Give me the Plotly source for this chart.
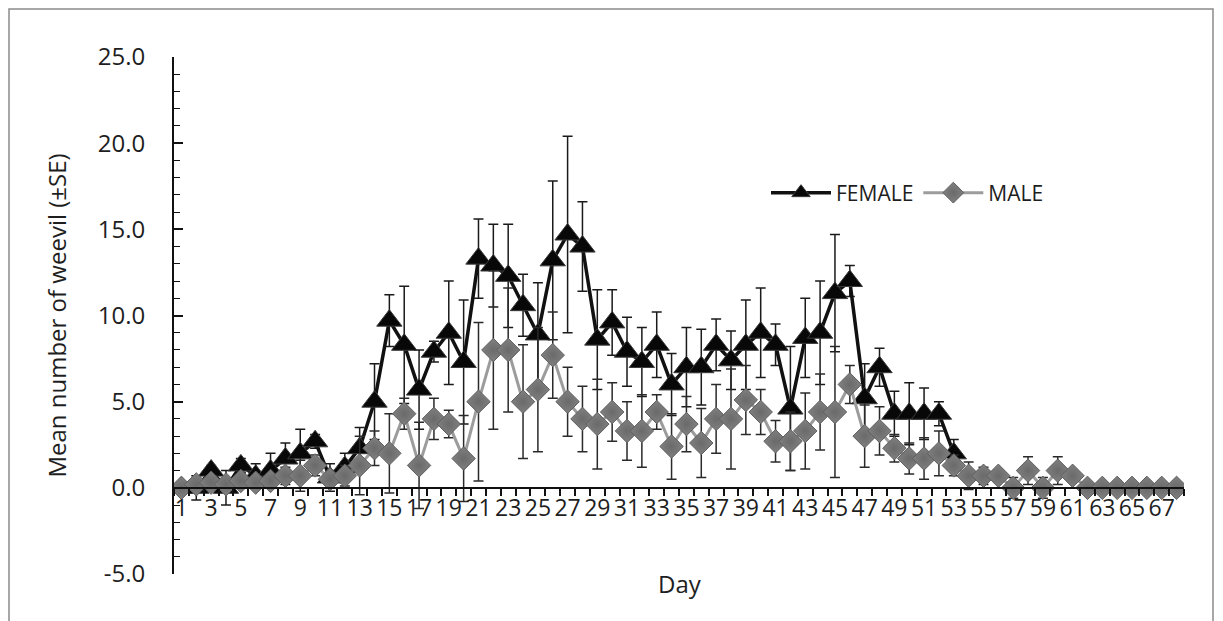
import plotly.graph_objects as go

days = list(range(1, 69))
female_mean = [0.0, 0.0, 1.0, 0.0, 1.3, 0.7, 1.0, 1.7, 2.0, 2.7,
               0.6, 1.2, 2.3, 5.0, 9.7, 8.3, 5.7, 7.9, 9.0, 7.3,
               13.3, 12.9, 12.3, 10.6, 8.9, 13.2, 14.7, 14.0, 8.6, 9.6,
               7.9, 7.3, 8.3, 6.0, 7.0, 7.0, 8.3, 7.4, 8.3, 9.0,
               8.3, 4.6, 8.7, 9.0, 11.3, 12.0, 5.2, 7.0, 4.3, 4.3,
               4.3, 4.3, 2.0, None, None, None, None, None, None, None,
               None, None, None, None, None, None, None, None]
female_se = [0.0, 0.7, 0.3, 1.0, 0.4, 0.7, 1.0, 0.9, 1.4, 0.4,
             0.8, 0.8, 1.2, 2.2, 1.5, 3.4, 2.3, 0.6, 3.0, 3.6,
             2.3, 2.4, 3.0, 1.8, 3.0, 4.6, 5.7, 2.6, 2.9, 1.9,
             2.0, 2.0, 1.9, 1.8, 2.3, 2.2, 1.5, 1.7, 2.6, 2.6,
             1.2, 3.6, 2.3, 3.0, 3.4, 0.9, 2.0, 1.1, 1.3, 1.8,
             1.5, 0.7, 0.8, 0.0, 0.0, 0.0, 0.0, 0.0, 0.0, 0.0,
             0.0, 0.0, 0.0, 0.0, 0.0, 0.0, 0.0, 0.0]
male_mean = [0.0, 0.2, 0.3, 0.2, 0.4, 0.3, 0.4, 0.7, 0.7, 1.3,
             0.5, 0.7, 1.3, 2.3, 2.0, 4.3, 1.3, 4.0, 3.7, 1.7,
             5.0, 8.0, 8.0, 5.0, 5.7, 7.7, 5.0, 4.0, 3.7, 4.4,
             3.3, 3.3, 4.4, 2.4, 3.7, 2.6, 4.0, 4.0, 5.1, 4.4,
             2.7, 2.7, 3.3, 4.4, 4.4, 6.0, 3.0, 3.3, 2.3, 1.7,
             1.7, 2.0, 1.3, 0.7, 0.7, 0.7, 0.0, 1.0, 0.0, 1.0,
             0.7, 0.0, 0.0, 0.0, 0.0, 0.0, 0.0, 0.0]
male_se = [0.0, 0.3, 0.3, 0.2, 0.4, 0.3, 0.4, 0.5, 0.9, 0.6,
           0.5, 0.6, 1.7, 1.0, 2.3, 0.9, 2.5, 1.2, 0.8, 2.5,
           4.6, 4.6, 3.6, 3.3, 3.6, 2.5, 2.0, 1.9, 2.6, 1.7,
           1.7, 2.1, 1.0, 1.9, 1.6, 2.0, 2.0, 2.9, 2.0, 1.3,
           1.2, 1.7, 2.2, 2.2, 3.8, 1.1, 1.8, 1.4, 0.8, 0.9,
           1.2, 1.3, 0.6, 0.8, 0.5, 0.0, 0.6, 0.8, 0.6, 0.8,
           0.3, 0.0, 0.0, 0.0, 0.0, 0.0, 0.0, 0.0]
x_tick_vals = list(range(1, 68, 2))
x_tick_text = [str(v) for v in x_tick_vals]
y_tick_vals = [-5, 0, 5, 10, 15, 20, 25]
y_tick_text = ["%.1f" % v for v in y_tick_vals]

FONT = "Open Sans"
TXT = "#1e1e1e"
L, R, T, B = 174, 39, 57, 47
W, H = 1223, 621
pw, ph = W - L - R, H - T - B


def px_x(p):
    return (p - L) / pw


def px_y(p):
    return (H - B - p) / ph


fig = go.Figure()
fig.add_trace(go.Scatter(
    x=days, y=female_mean, name="FEMALE", mode="lines+markers",
    line=dict(color="#111111", width=3.5),
    marker=dict(symbol="triangle-up", size=22, color="#080808",
                line=dict(color="#3a3a3a", width=1)),
    error_y=dict(type="data", array=female_se, visible=True,
                 color="#1a1a1a", thickness=1.5, width=5),
))
fig.add_trace(go.Scatter(
    x=days, y=male_mean, name="MALE", mode="lines+markers",
    line=dict(color="#9c9c9c", width=3),
    marker=dict(symbol="diamond", size=18, color="#808080",
                line=dict(color="#5e5e5e", width=1),
                gradient=dict(type="radial", color="#6a6a6a")),
    error_y=dict(type="data", array=male_se, visible=True,
                 color="#2a2a2a", thickness=1.5, width=5),
))

fig.update_layout(
    width=W, height=H,
    margin=dict(l=L, r=R, t=T, b=B, autoexpand=False),
    paper_bgcolor="white", plot_bgcolor="white",
    font=dict(family=FONT, size=24, color=TXT),
    showlegend=True,
    legend=dict(orientation="h", x=px_x(766), y=px_y(193),
                xanchor="left", yanchor="middle",
                font=dict(size=21, family=FONT, color=TXT),
                bgcolor="rgba(0,0,0,0)", itemwidth=60),
    xaxis=dict(
        range=[0.5, 68.5], anchor="free", position=5 / 30,
        showline=True, linecolor="#111111", linewidth=2,
        showgrid=False, zeroline=False,
        tickmode="array", tickvals=x_tick_vals, ticktext=x_tick_text,
        ticks="", tickfont=dict(size=23, family=FONT, color=TXT),
        minor=dict(tickmode="array", tickvals=[d + 0.5 for d in [0] + days],
                   ticks="outside", ticklen=7, tickcolor="#111111",
                   tickwidth=1.5, showgrid=False),
    ),
    yaxis=dict(
        range=[-5, 25], showline=True, linecolor="#111111", linewidth=2,
        showgrid=False, zeroline=False,
        tickmode="array", tickvals=y_tick_vals, ticktext=y_tick_text,
        ticks="inside", ticklen=9, tickwidth=1.5, tickcolor="#111111",
        ticklabelstandoff=22,
        tickfont=dict(size=24, family=FONT, color=TXT),
        minor=dict(dtick=1, tick0=0, ticks="inside", ticklen=6,
                   tickwidth=1.2, tickcolor="#111111", showgrid=False),
        title=dict(text="Mean number of weevil (±SE)",
                   font=dict(size=24, family=FONT, color=TXT), standoff=24),
    ),
)

fig.add_annotation(text="Day", xref="paper", yref="paper",
                   x=px_x(680), y=px_y(583), showarrow=False,
                   xanchor="center", yanchor="middle",
                   font=dict(size=24, family=FONT, color=TXT))

fig.add_shape(type="rect", xref="paper", yref="paper",
              x0=px_x(9), x1=px_x(1213), y0=px_y(640), y1=px_y(9),
              line=dict(color="#8a8a8a", width=1.5), layer="below")

fig.write_html("out.html")
